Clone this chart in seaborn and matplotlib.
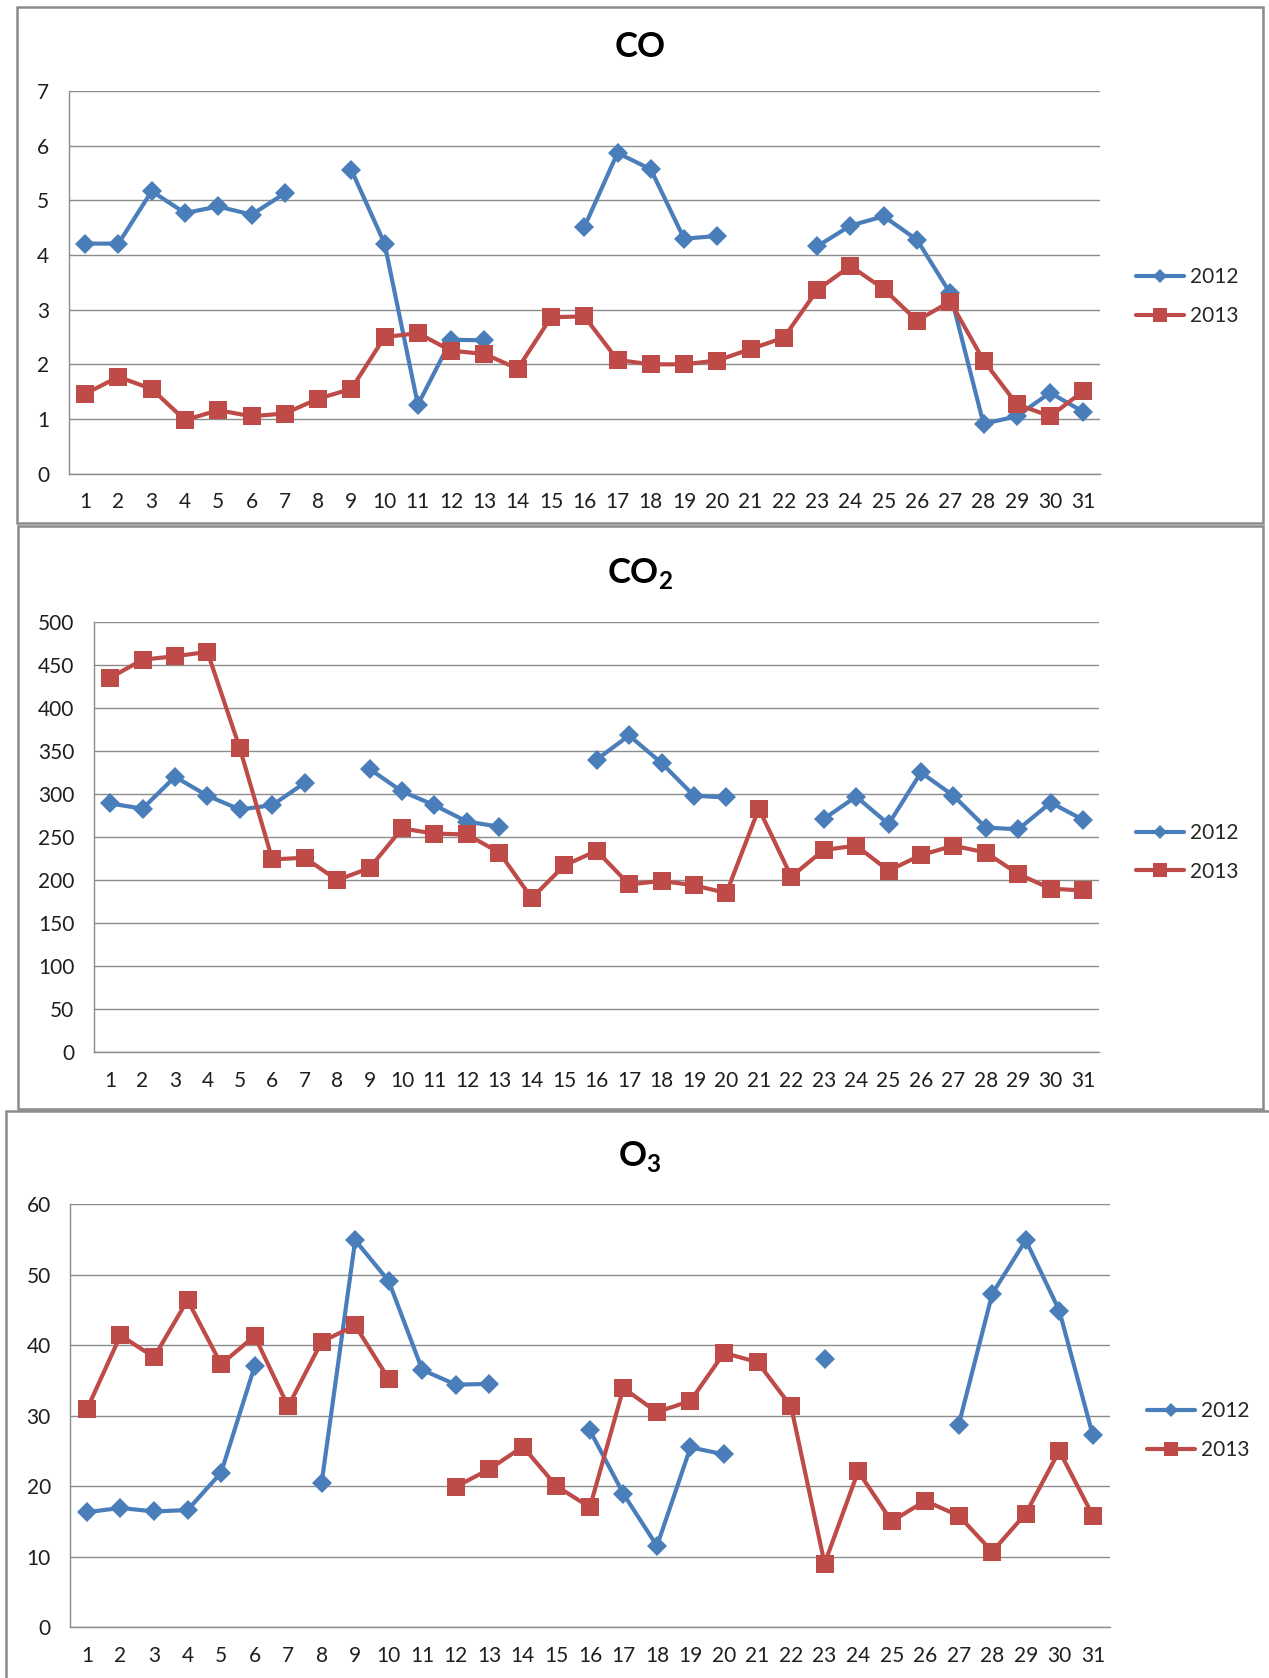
import numpy as np
import pandas as pd
import matplotlib
matplotlib.use("Agg")
import matplotlib.pyplot as plt
from matplotlib.lines import Line2D
from matplotlib.patches import Rectangle
import seaborn as sns

nan = np.nan
days = list(range(1, 32))
years = ["2012", "2013"]

co_2012 = [4.21, 4.21, 5.17, 4.77, 4.89, 4.74, 5.13, nan, 5.56, 4.21, 1.26, 2.45, 2.44, nan, nan,
           4.51, 5.87, 5.57, 4.30, 4.35, nan, nan, 4.16, 4.54, 4.71, 4.28, 3.30, 0.91, 1.05, 1.48, 1.13]
co_2013 = [1.46, 1.77, 1.55, 0.98, 1.16, 1.05, 1.10, 1.37, 1.55, 2.50, 2.57, 2.25, 2.19, 1.92, 2.86,
           2.88, 2.08, 2.00, 2.00, 2.07, 2.28, 2.49, 3.36, 3.80, 3.38, 2.80, 3.15, 2.07, 1.27, 1.05, 1.51]

co2_2012 = [289, 283, 320, 298, 282, 287, 313, nan, 329, 303, 287, 268, 262, nan, nan,
            340, 368, 336, 298, 296, nan, nan, 271, 297, 265, 325, 298, 261, 259, 290, 270]
co2_2013 = [435, 456, 460, 465, 353, 224, 226, 200, 214, 260, 254, 253, 232, 179, 217,
            234, 195, 199, 194, 185, 283, 204, 235, 240, 211, 229, 240, 232, 207, 190, 188]

o3_2012 = [16.3, 16.9, 16.4, 16.6, 21.9, 37.0, nan, 20.5, 54.9, 49.1, 36.5, 34.4, 34.5, nan, nan,
           27.9, 18.9, 11.5, 25.5, 24.5, nan, nan, 38.0, nan, nan, nan, 28.7, 47.3, 54.9, 44.9, 27.2]
o3_2013 = [30.9, 41.4, 38.3, 46.4, 37.3, 41.3, 31.3, 40.5, 42.8, 35.2, nan, 19.9, 22.4, 25.6, 20.0,
           17.0, 33.9, 30.5, 32.1, 38.9, 37.6, 31.3, 9.0, 22.1, 15.0, 17.9, 15.8, 10.7, 16.1, 25.0, 15.8]

titles = ["CO", r"CO$_\mathbf{2}$", r"O$_\mathbf{3}$"]
y_ticks = [np.arange(0, 8, 1), np.arange(0, 501, 50), np.arange(0, 61, 10)]

BLUE = "#4A7EBB"
RED = "#BE4B48"
GRID = "#8C8C8C"
TXT = "#1E1E1E"

sns.set_theme(style="white")
plt.rcParams["font.family"] = ["Lato", "DejaVu Sans"]
plt.rcParams["mathtext.fontset"] = "custom"
plt.rcParams["mathtext.rm"] = "Lato"
plt.rcParams["mathtext.bf"] = "Lato:bold"

W, H = 1269, 1678
fig = plt.figure(figsize=(W / 100, H / 100), dpi=100)
fig.patch.set_facecolor("white")


def segments(values, year):
    """Long-form table where each unbroken run of days gets its own unit id."""
    rows, seg, gap = [], 0, True
    for d, v in zip(days, values):
        if np.isnan(v):
            gap = True
            continue
        if gap:
            seg += 1
            gap = False
        rows.append({"day": d, "value": v, "year": year, "seg": f"{year}-{seg}"})
    return pd.DataFrame(rows)


# pixel boxes: axes (left, top, right, bottom), panel frame, legend anchor
panels = [
    dict(series=(co_2012, co_2013), ax=(68.5, 91.2, 1100, 473.6),
         frame=(17, 6.8, 1263, 523), leg=(1136, 296.5), title_y=57.4),
    dict(series=(co2_2012, co2_2013), ax=(93.9, 621.8, 1099.4, 1052.3),
         frame=(18, 525.7, 1263, 1109.4), leg=(1136, 852.4), title_y=583),
    dict(series=(o3_2012, o3_2013), ax=(70.2, 1204.3, 1109.6, 1627),
         frame=(6, 1111, 1290, 1700), leg=(1147, 1430.8), title_y=1166),
]

styles = {"2012": dict(color=BLUE, marker="D", markersize=10),
          "2013": dict(color=RED, marker="s", markersize=12.5)}

for i, p in enumerate(panels):
    l, t, r, b = p["ax"]
    ax = fig.add_axes([l / W, 1 - b / H, (r - l) / W, (b - t) / H])
    ax.set_axisbelow(True)

    for year, vals in zip(years, p["series"]):
        df = segments(vals, year)
        st = styles[year]
        sns.lineplot(data=df, x="day", y="value", units="seg", estimator=None,
                     color=st["color"], marker=st["marker"], markersize=st["markersize"],
                     markeredgewidth=0, linewidth=3.0, ax=ax, legend=False)

    yt = y_ticks[i]
    ax.set_ylim(yt[0], yt[-1])
    ax.set_yticks(yt)
    ax.set_xlim(0.5, 31.5)
    ax.set_xticks(days)
    ax.set_xticks(np.arange(0.5, 32, 1), minor=True)
    ax.set_xlabel("")
    ax.set_ylabel("")

    ax.grid(axis="y", color=GRID, linewidth=1.0)
    ax.grid(axis="x", visible=False, which="both")
    for s in ("top", "right"):
        ax.spines[s].set_visible(False)
    for s in ("left", "bottom"):
        ax.spines[s].set_color(GRID)
        ax.spines[s].set_linewidth(1.0)

    ax.tick_params(axis="x", which="major", length=0, pad=13.5, labelsize=15, labelcolor=TXT)
    ax.tick_params(axis="x", which="minor", length=5, width=1.0, color=GRID, direction="out")
    ax.tick_params(axis="y", which="major", length=5, width=1.0, color=GRID, direction="out",
                   pad=9, labelsize=15, labelcolor=TXT)

    handles = [Line2D([], [], color=BLUE, marker="D", markersize=7.5, markeredgewidth=0, linewidth=3.0),
               Line2D([], [], color=RED, marker="s", markersize=10, markeredgewidth=0, linewidth=3.0)]
    lx, ly = p["leg"]
    ax.legend(handles, years, loc="center left", bbox_to_anchor=(lx / W, 1 - ly / H),
              bbox_transform=fig.transFigure, frameon=False, fontsize=15,
              handlelength=2.3, handletextpad=0.3, labelspacing=0.9,
              borderpad=0, borderaxespad=0)

    fig.text(640 / W, 1 - p["title_y"] / H, titles[i], ha="center", va="baseline",
             fontsize=25, fontweight="bold", color="black")

    fx0, fy0, fx1, fy1 = p["frame"]
    fig.add_artist(Rectangle((fx0 / W, 1 - fy1 / H), (fx1 - fx0) / W, (fy1 - fy0) / H,
                             transform=fig.transFigure, fill=False,
                             edgecolor="#8A8A8A", linewidth=1.8))

fig.savefig("out.png", dpi=100, facecolor="white")
